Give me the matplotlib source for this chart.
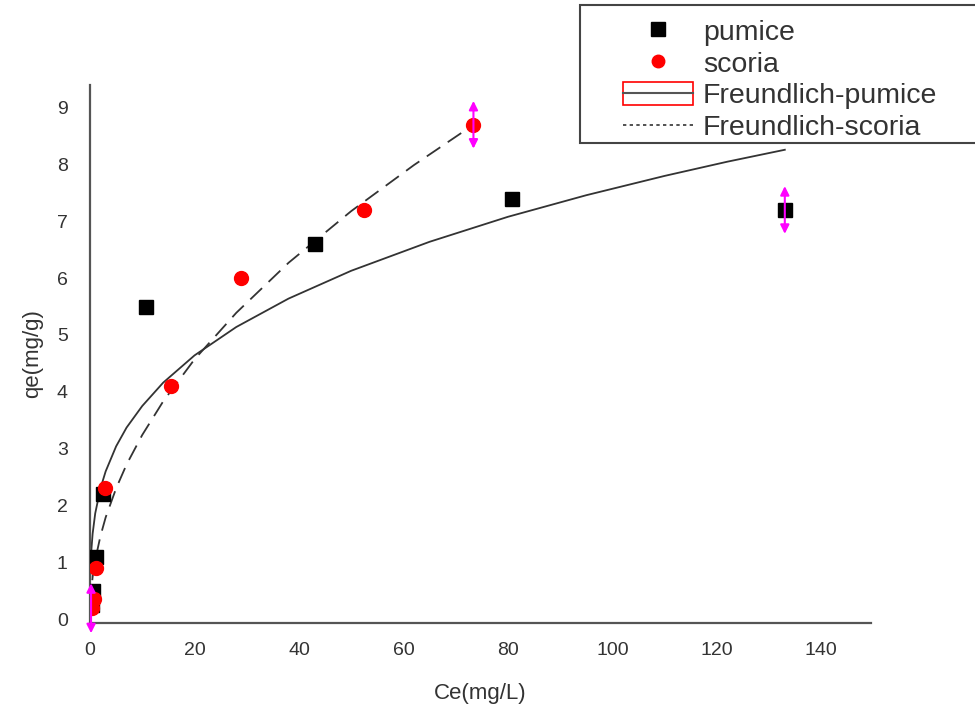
import matplotlib
matplotlib.use("Agg")
import matplotlib.pyplot as plt
from matplotlib.lines import Line2D
from matplotlib.patches import Patch, Rectangle

plt.rcParams['font.family'] = ['Liberation Sans', 'DejaVu Sans']

########### Data ###########

# measured points
pumice_ce = [0.3, 0.5, 1.2, 2.5, 10.8, 43.0, 80.7, 133.0]
pumice_qe = [0.25, 0.5, 1.1, 2.2, 5.5, 6.6, 7.4, 7.2]
scoria_ce = [0.4, 0.7, 1.2, 2.9, 15.6, 29.0, 52.5, 73.4]
scoria_qe = [0.2, 0.35, 0.9, 2.3, 4.1, 6.0, 7.2, 8.7]

# Freundlich curves
fr_pumice_ce = [0.05, 0.2, 0.5, 1, 2, 3, 5, 7, 10, 14, 20, 28, 38, 50, 65, 80, 95, 110, 122, 133]
fr_pumice_qe = [0.75, 1.14, 1.50, 1.86, 2.30, 2.60, 3.04, 3.37, 3.75, 4.16, 4.64, 5.14, 5.64,
                6.13, 6.64, 7.08, 7.46, 7.80, 8.05, 8.26]
fr_scoria_ce = [0.05, 0.2, 0.5, 1, 2, 3, 5, 7, 10, 14, 20, 28, 38, 50, 62, 73.4]
fr_scoria_qe = [0.24, 0.47, 0.74, 1.04, 1.46, 1.79, 2.30, 2.72, 3.24, 3.83, 4.57, 5.39, 6.27,
                7.18, 7.99, 8.70]

# magenta error bars (x, y, half height)
err_x = [0.2, 73.4, 133.0]
err_y = [0.19, 8.7, 7.2]
err_h = [0.44, 0.42, 0.42]

x_ticks = [0, 20, 40, 60, 80, 100, 120, 140]
y_ticks = [0, 1, 2, 3, 4, 5, 6, 7, 8, 9]

########### Plotting ###########

fig = plt.figure(figsize=(9.75, 7.13), dpi=100)
ax = fig.add_axes([90 / 975, 1 - 623 / 713, 781 / 975, 538 / 713])

ax.plot(fr_pumice_ce, fr_pumice_qe, color="#333333", linewidth=1.3, zorder=2)
ax.plot(fr_scoria_ce, fr_scoria_qe, color="#333333", linewidth=1.3,
        linestyle=(0, (9, 5)), zorder=2)

ax.plot(pumice_ce, pumice_qe, linestyle="none", marker="s", markersize=10,
        color="black", zorder=3)
ax.plot(scoria_ce, scoria_qe, linestyle="none", marker="o", markersize=10,
        color="red", markeredgecolor="red", zorder=4)

for x, y, h in zip(err_x, err_y, err_h):
    ax.annotate("", xy=(x, y + h), xytext=(x, y - h),
                arrowprops=dict(arrowstyle="<|-|>", color="magenta", lw=1.5,
                                mutation_scale=13, shrinkA=0, shrinkB=0),
                zorder=5)

ax.set_xlim(0, 149.5)
ax.set_ylim(-0.07, 9.4)
ax.set_xticks(x_ticks)
ax.set_yticks(y_ticks)
ax.tick_params(length=0, labelsize=14, labelcolor="#333333")
ax.tick_params(axis="x", pad=14)
ax.tick_params(axis="y", pad=16)

for side in ["top", "right"]:
    ax.spines[side].set_visible(False)
for side in ["left", "bottom"]:
    ax.spines[side].set_color("#555555")
    ax.spines[side].set_linewidth(1.6)

ax.set_xlabel("Ce(mg/L)", fontsize=16, color="#333333", labelpad=17)
ax.set_ylabel("qe(mg/g)", fontsize=16, color="#333333", labelpad=10)

# Legend box (runs off the right edge like the original)
box = Rectangle((580 / 975, 1 - 143 / 713), 0.45, 138 / 713, transform=fig.transFigure,
                facecolor="white", edgecolor="#444444", linewidth=1.5, zorder=10)
fig.patches.append(box)

h_pumice = Line2D([], [], linestyle="none", marker="s", markersize=10, color="black")
h_scoria = Line2D([], [], linestyle="none", marker="o", markersize=9, color="red")
h_fr_pumice = (Patch(facecolor="white", edgecolor="red", linewidth=1.2),
               Line2D([], [], color="#555555", linewidth=1.5))
h_fr_scoria = Line2D([], [], color="#333333", linewidth=1.2, linestyle=(0, (2, 2)))

leg = fig.legend([h_pumice, h_scoria, h_fr_pumice, h_fr_scoria],
                 ["pumice", "scoria", "Freundlich-pumice", "Freundlich-scoria"],
                 loc="upper left", bbox_to_anchor=(623 / 975, 1 - 18 / 713),
                 fontsize=20.5, frameon=False,
                 handlelength=2.45, handleheight=0.9, handletextpad=0.35,
                 labelspacing=0.15, borderpad=0, borderaxespad=0)
leg.set_zorder(11)
for t in leg.get_texts():
    t.set_color("#333333")

fig.savefig("out.png", dpi=100)
